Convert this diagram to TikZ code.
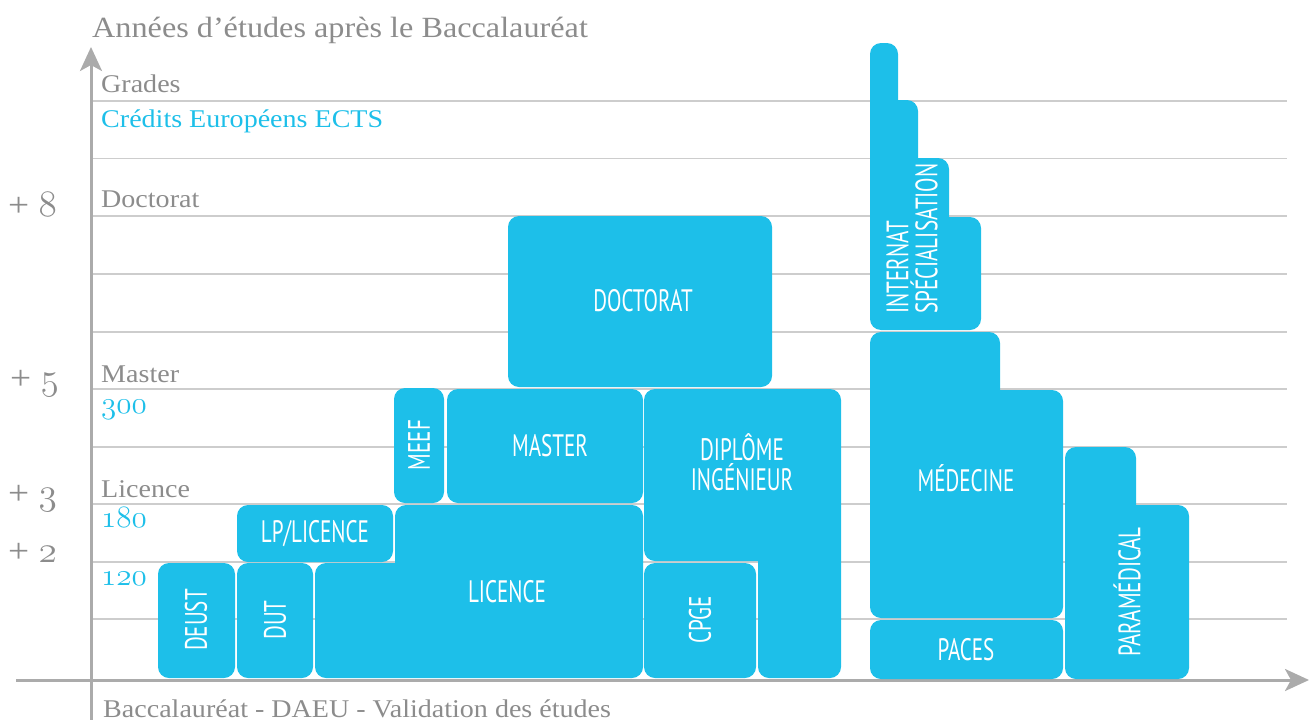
\documentclass[tikz,border=0pt]{standalone}
\usepackage{fontspec}
\setmainfont{Liberation Serif}[FakeStretch=1.1]
\newfontfamily\condfont[FakeStretch=0.68]{PT Sans}
\usetikzlibrary{arrows.meta}
\definecolor{ecyan}{HTML}{1DBFE9}
\definecolor{egrey}{HTML}{8C8C8C}
\definecolor{egrid}{HTML}{CDCDCD}
\definecolor{eaxis}{HTML}{ABABAB}
\newcommand\osnum[2][1.25]{\scalebox{#1}{\fontencoding{OML}\fontfamily{lmm}\fontseries{m}\fontshape{it}\selectfont #2}}

\begin{document}
\begin{tikzpicture}[x=1pt, y=-1pt,
    box/.style={fill=ecyan, rounded corners=11pt},
    lab/.style={text=white, font=\condfont\fontsize{31}{30}\selectfont, inner sep=0pt, align=center},
    grade/.style={text=egrey, font=\fontsize{25.5}{27}\selectfont, anchor=base west, inner sep=0pt},
    ects/.style={grade, text=ecyan},
    year/.style={grade, font=\fontsize{34}{34}\selectfont},
    gridline/.style={egrid, line width=1.8pt},
    axis/.style={eaxis, line width=3pt, -{Stealth[length=24pt, width=22pt, inset=6pt]}}
]
\useasboundingbox (0,0) rectangle (1309,720);

% Grid
\foreach \y in {100.8,158.5,216.2,273.9,331.6,389.3,446.7,504.3,562,619.3}
  \draw[gridline] (92,\y) -- (1287,\y);

% Axes
\coordinate (ybot) at (91,720);
\coordinate (ytop) at (91,47);
\coordinate (xleft) at (16,680);
\coordinate (xright) at (1309,680);
\draw[axis] (ybot) -- (ytop);
\draw[axis] (xleft) -- (xright);

% Boxes
\fill[box] (158,563) rectangle (235,678);
\fill[box] (237,563) rectangle (313,678);
\fill[box] (237,505) rectangle (393,562);
\fill[box] (315,563) rectangle (643,678) (395,505) rectangle (643,678);
\fill[box] (394,388) rectangle (444,503);
\fill[box] (447,389) rectangle (643,503);
\fill[box] (508,216) rectangle (772,387);
\fill[box] (644,389) rectangle (841,561) (758,389) rectangle (841,678);
\fill[box] (644,563) rectangle (756,678);
\fill[box] (870,43) rectangle (898,330) (870,100) rectangle (918,330)
  (870,158) rectangle (949,330) (870,217) rectangle (981,330);
\fill[box] (870,332) rectangle (1000,618) (870,390) rectangle (1063,618);
\fill[box] (870,620) rectangle (1063,679);
\fill[box] (1065,447) rectangle (1136,679) (1065,505) rectangle (1189,679);

% Box labels
\node[lab, rotate=90] (deust) at (196,620) {DEUST};
\node[lab, rotate=90] (dut) at (275,620) {DUT};
\node[lab] (lp) at (315,534) {LP/LICENCE};
\node[lab] (licence) at (507,592) {LICENCE};
\node[lab, rotate=90] (meef) at (419,445) {MEEF};
\node[lab] (master) at (550,446) {MASTER};
\node[lab] (doctorat) at (643,301) {DOCTORAT};
\node[lab] (ingenieur) at (742,462) {DIPLÔME\\INGÉNIEUR};
\node[lab, rotate=90] (cpge) at (700,620) {CPGE};
\node[lab, rotate=90, anchor=west, align=left, font=\condfont\fontsize{31}{29}\selectfont] (internat) at (912,314) {INTERNAT\\SPÉCIALISATION};
\node[lab] (medecine) at (966,478) {MÉDECINE};
\node[lab] (paces) at (966,650) {PACES};
\node[lab, rotate=90] (paramedical) at (1127,592) {PARAMÉDICAL};

% Axis texts
\node[grade, font=\fontsize{29.3}{29}\selectfont] (title) at (92,37) {Années d’études après le Baccalauréat};
\node[grade] (bac) at (103,717) {Baccalauréat - DAEU - Validation des études};
\node[grade] (grades) at (101,92) {Grades};
\node[ects] (credits) at (101,127) {Crédits Européens ECTS};
\node[grade] (gdoc) at (101,207) {Doctorat};
\node[grade] (gmaster) at (101,382) {Master};
\node[ects] (e300) at (101,413) {\osnum{300}};
\node[grade] (glic) at (101,497) {Licence};
\node[ects] (e180) at (101,527) {\osnum{180}};
\node[ects] (e120) at (101,585) {\osnum{120}};
\node[year] (y8) at (8,216) {+ \osnum[1.5]{8}};
\node[year] (y5) at (10,389) {+ \osnum[1.5]{5}};
\node[year] (y3) at (8,504) {+ \osnum[1.5]{3}};
\node[year] (y2) at (8,562) {+ \osnum[1.5]{2}};

\end{tikzpicture}
\end{document}
